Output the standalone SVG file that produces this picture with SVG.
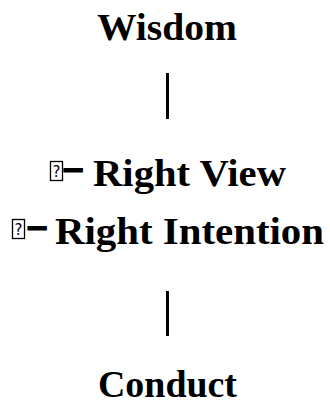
<svg xmlns="http://www.w3.org/2000/svg" width="330" height="403" viewBox="0 0 330 403">
<style>
.t{font-family:"Liberation Serif","DejaVu Serif",serif;font-weight:bold;font-size:37px;fill:#000}
.d{font-family:"DejaVu Sans",sans-serif;font-weight:bold;font-size:40px;fill:#000;stroke:#000;stroke-width:1.2}
.q{font-family:"DejaVu Sans",sans-serif;font-size:15px;fill:#000;text-anchor:middle}
.box{fill:none;stroke:#000;stroke-width:1.3}
.c{stroke:#000;stroke-width:3}
</style>
<rect width="330" height="403" fill="#fff"/>
<g id="connectors">
<line class="c" x1="167.5" y1="73" x2="167.5" y2="119"/>
<line class="c" x1="167.5" y1="291" x2="167.5" y2="336"/>
</g>
<g id="wisdom"><text class="t" x="97" y="40" textLength="140" lengthAdjust="spacingAndGlyphs">Wisdom</text></g>
<g id="right-view">
<rect class="box" x="50.5" y="161.5" width="12" height="19"/>
<text class="q" x="56.5" y="177">?</text>
<text class="d" x="64" y="184" textLength="18" lengthAdjust="spacingAndGlyphs">─</text>
<text class="t" x="93" y="186" textLength="193" lengthAdjust="spacingAndGlyphs">Right View</text>
</g>
<g id="right-intention">
<rect class="box" x="12.5" y="219.5" width="12" height="19"/>
<text class="q" x="18.5" y="235">?</text>
<text class="d" x="28" y="242" textLength="18" lengthAdjust="spacingAndGlyphs">─</text>
<text class="t" x="55" y="244" textLength="269" lengthAdjust="spacingAndGlyphs">Right Intention</text>
</g>
<g id="conduct"><text class="t" x="98" y="397" textLength="139" lengthAdjust="spacingAndGlyphs">Conduct</text></g>
</svg>
